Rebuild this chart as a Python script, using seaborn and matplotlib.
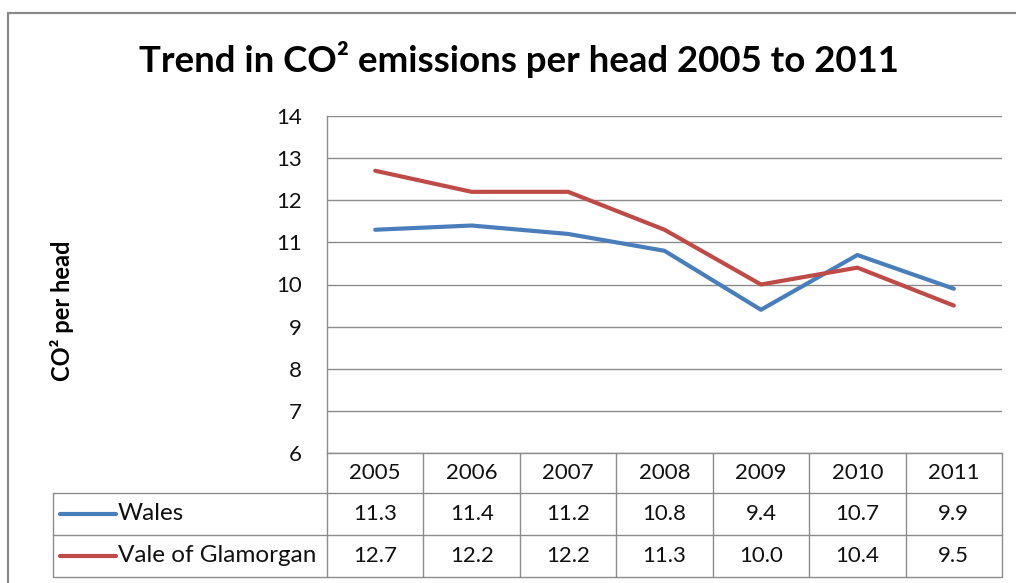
import matplotlib
matplotlib.use("Agg")
import matplotlib.pyplot as plt
import matplotlib.transforms as mtransforms
from matplotlib.patches import Rectangle
from matplotlib.lines import Line2D
import seaborn as sns
import pandas as pd

# ---- data ----
years = ["2005", "2006", "2007", "2008", "2009", "2010", "2011"]
wales = [11.3, 11.4, 11.2, 10.8, 9.4, 10.7, 9.9]
vale = [12.7, 12.2, 12.2, 11.3, 10.0, 10.4, 9.5]
series_names = ["Wales", "Vale of Glamorgan"]
y_ticks = [6, 7, 8, 9, 10, 11, 12, 13, 14]
title = "Trend in CO² emissions per head 2005 to 2011"
ylabel = "CO² per head"

W, H = 1016, 583
sns.set_theme(style="white")
plt.rcParams['font.family'] = ['Lato', 'DejaVu Sans']

fig = plt.figure(figsize=(W / 100, H / 100), dpi=100)
fig.patch.set_facecolor("white")


def fx(x):
    return x / W


def fy(y):
    return 1 - y / H


ax = fig.add_axes([fx(327), fy(453), fx(1002) - fx(327), fy(116) - fy(453)])

n = len(years)
df = pd.DataFrame({
    "x": list(range(n)) * 2,
    "value": wales + vale,
    "series": [series_names[0]] * n + [series_names[1]] * n,
})
colors = {series_names[0]: "#4A7EBB", series_names[1]: "#BE4B48"}
sns.lineplot(data=df, x="x", y="value", hue="series", palette=colors, ax=ax,
             linewidth=3, legend=False, sort=False)

grid_c = "#8c8c8c"
txt_c = "#111111"
fs = 16
ax.set_xlim(-0.5, n - 0.5)
ax.set_ylim(y_ticks[0], y_ticks[-1])
ax.set_yticks(y_ticks)
ax.set_yticklabels([str(t) for t in y_ticks], fontsize=fs, color=txt_c)
ax.tick_params(axis="y", length=0, pad=18)
ax.set_xticks([])
ax.set_xlabel("")
ax.set_ylabel("")
ax.grid(axis="y", color=grid_c, linewidth=1)
ax.set_axisbelow(True)
for s in ["top", "right"]:
    ax.spines[s].set_visible(False)
for s in ["left", "bottom"]:
    ax.spines[s].set_color(grid_c)
    ax.spines[s].set_linewidth(1)

# ---- data table ----
trans = mtransforms.blended_transform_factory(ax.transData, fig.transFigure)
lkw = dict(color=grid_c, linewidth=1)
for i in range(n + 1):
    fig.add_artist(Line2D([i - 0.5, i - 0.5], [fy(453), fy(577)], transform=trans, **lkw))
for yy in [493, 535, 577]:
    fig.add_artist(Line2D([-0.5, n - 0.5], [fy(yy), fy(yy)], transform=trans, **lkw))
    fig.add_artist(Line2D([fx(53), fx(327)], [fy(yy), fy(yy)], transform=fig.transFigure, **lkw))
fig.add_artist(Line2D([fx(53), fx(53)], [fy(493), fy(577)], transform=fig.transFigure, **lkw))

row_y = [514, 556]
for i, yr in enumerate(years):
    fig.text(i, fy(473), yr, transform=trans, ha="center", va="center", fontsize=fs, color=txt_c)
for vals, ry in zip([wales, vale], row_y):
    for i, v in enumerate(vals):
        fig.text(i, fy(ry), f"{v:.1f}", transform=trans, ha="center", va="center",
                 fontsize=fs, color=txt_c)
for name, ry in zip(series_names, row_y):
    fig.add_artist(Line2D([fx(60), fx(116)], [fy(ry), fy(ry)], transform=fig.transFigure,
                          color=colors[name], linewidth=3, solid_capstyle="round"))
    fig.text(fx(118), fy(ry), name, ha="left", va="center", fontsize=17.5, color=txt_c)

# ---- titles ----
fig.text(fx(519), fy(60), title, ha="center", va="center", fontsize=26.4,
         fontweight="bold", color="black")
fig.text(fx(62), fy(311), ylabel, ha="center", va="center", rotation=90,
         fontsize=17, fontweight="bold", color="black")

# ---- outer chart border ----
fig.add_artist(Rectangle((fx(8), -0.2), 1.2, fy(13) + 0.2, transform=fig.transFigure,
                         fill=False, edgecolor="#8a8a8a", linewidth=1.6))

fig.savefig("out.png", dpi=100)
